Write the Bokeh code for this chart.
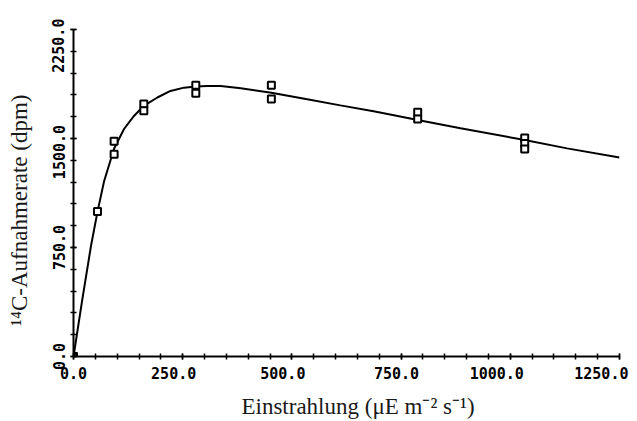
import numpy as np
from bokeh.plotting import figure
from bokeh.models import FixedTicker, Range1d, ColumnDataSource
from bokeh.embed import file_html
from bokeh.resources import INLINE

# ---- data ----
irradiance = [0, 0, 55, 93, 93, 161, 161, 280, 280, 453, 453, 788, 788, 1033, 1033, 1033]
uptake = [0, 0, 997, 1481, 1391, 1737, 1691, 1866, 1811, 1866, 1771, 1680, 1635, 1504, 1465, 1427]

fit_irradiance = [0, 20, 40, 55, 70, 93, 116, 139, 161, 192, 222, 253, 280, 306, 337,
                  383, 453, 535, 611, 687, 748, 788, 886, 1033, 1130, 1250]
fit_uptake = [0, 390, 760, 997, 1206, 1431, 1567, 1657, 1725, 1782, 1827, 1850, 1857, 1861, 1861,
              1845, 1815, 1770, 1728, 1688, 1652, 1628, 1570, 1490, 1432, 1370]

x_tick_values = [0, 250, 500, 750, 1000, 1250]
x_tick_labels = ["0.0", "250.0", "500.0", "750.0", "1000.0", "1250.0"]
y_tick_values = [0, 750, 1500, 2250]
y_tick_labels = ["0.0", "750.0", "1500.0", "2250.0"]

x_title = "Einstrahlung (\u03bcE m\u207b\u00b2 s\u207b\u00b9)"
y_title = "\u00b9\u2074C-Aufnahmerate (dpm)"

# ---- style / layout ----
NB = "\u00a0"
x_label_pad = [0, 2, 2, 1, 3, 1]
y_label_pad = [0, 0, 3, 2]
x_title_lead = 4     # shifts the centred title to the right
y_title_trail = 6    # shifts the centred title downwards

p = figure(width=637, height=421,
           x_range=Range1d(0, 1250), y_range=Range1d(0, 2250),
           output_backend="svg", toolbar_location=None,
           min_border_left=73, min_border_right=18,
           min_border_top=29, min_border_bottom=60)
p.outline_line_color = None
p.grid.visible = False
p.background_fill_color = "white"
p.border_fill_color = "white"

p.line(fit_irradiance, fit_uptake, line_color="black", line_width=2)

src = ColumnDataSource(dict(
    x=irradiance, y=uptake,
    fill=["black" if xv == 0 else "white" for xv in irradiance]))
p.scatter("x", "y", source=src, marker="square", size=7,
          line_color="black", line_width=2, fill_color="fill")

xa = p.xaxis[0]
ya = p.yaxis[0]
xa.ticker = FixedTicker(ticks=x_tick_values,
                        minor_ticks=[float(v) for v in np.arange(0, 1251, 50)])
ya.ticker = FixedTicker(ticks=y_tick_values,
                        minor_ticks=[float(v) for v in np.arange(0, 2251, 150)])
xa.major_label_overrides = {v: lab + NB * n for v, lab, n in
                            zip(x_tick_values, x_tick_labels, x_label_pad)}
ya.major_label_overrides = {v: lab + NB * n for v, lab, n in
                            zip(y_tick_values, y_tick_labels, y_label_pad)}

for ax in (xa, ya):
    ax.axis_line_width = 2
    ax.axis_line_color = "black"
    ax.major_tick_in = 3
    ax.major_tick_out = 3
    ax.minor_tick_in = 3
    ax.minor_tick_out = 3
    ax.major_tick_line_width = 1.5
    ax.minor_tick_line_width = 1.5
    ax.major_tick_line_color = "black"
    ax.minor_tick_line_color = "black"
    ax.major_label_text_font = "DejaVu Sans Mono"
    ax.major_label_text_font_style = "bold"
    ax.major_label_text_font_size = "15px"
    ax.major_label_text_color = "black"
    ax.axis_label_text_font = "Liberation Serif"
    ax.axis_label_text_font_style = "normal"
    ax.axis_label_text_font_size = "23px"
    ax.axis_label_text_color = "#1a1a1a"
xa.major_label_standoff = 5
ya.major_label_standoff = 2
ya.major_label_orientation = "vertical"

xa.axis_label = NB * x_title_lead + x_title
ya.axis_label = y_title + NB * y_title_trail
xa.axis_label_standoff = 8
ya.axis_label_standoff = 16

open("out.html", "w").write(file_html(p, INLINE))
